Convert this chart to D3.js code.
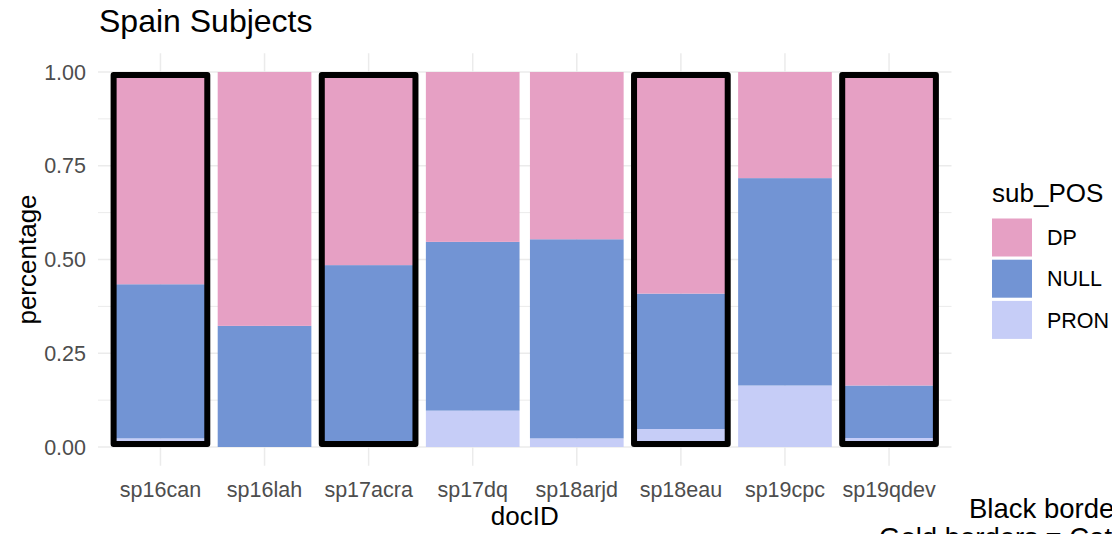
<!DOCTYPE html>
<html>
<head>
<meta charset="utf-8">
<script src="https://cdn.jsdelivr.net/npm/d3@7"></script>
<style>
  body { margin: 0; background: #fff; overflow: hidden; }
  text { font-family: "Liberation Sans", Arial, sans-serif; }
</style>
</head>
<body>
<div id="chart"></div>
<script>
// data
var docIDs = ["sp16can", "sp16lah", "sp17acra", "sp17dq", "sp18arjd", "sp18eau", "sp19cpc", "sp19qdev"];
var dpVals   = [0.566, 0.677, 0.515, 0.453, 0.446, 0.591, 0.283, 0.836];
var nullVals = [0.411, 0.323, 0.485, 0.450, 0.531, 0.361, 0.553, 0.140];
var pronVals = [0.023, 0.000, 0.000, 0.097, 0.023, 0.048, 0.164, 0.024];
var posKeys = ["DP", "NULL", "PRON"];
var posColors = ["#E6A0C4", "#7294D4", "#C6CDF7"];
var boxedDocs = ["sp16can", "sp17acra", "sp18eau", "sp19qdev"];
var yTicks = [0, 0.25, 0.5, 0.75, 1];
var yMinor = [0.125, 0.375, 0.625, 0.875];

var W = 1112, H = 534;
var svg = d3.select("#chart").append("svg")
    .attr("width", W).attr("height", H);

// scales
var x = d3.scaleBand()
    .domain(docIDs)
    .range([98, 951.5])
    .paddingInner(0.1)
    .paddingOuter(0.15);
var y = d3.scaleLinear()
    .domain([-0.05, 1.05])
    .range([465.75, 53.25]);

var color = d3.scaleOrdinal().domain(posKeys).range(posColors);

// grid
var grid = svg.append("g");
grid.selectAll(".minor").data(yMinor).enter().append("line")
    .attr("x1", 98).attr("x2", 951.5)
    .attr("y1", function (d) { return y(d); })
    .attr("y2", function (d) { return y(d); })
    .attr("stroke", "#EBEBEB").attr("stroke-width", 1);
grid.selectAll(".major").data(yTicks).enter().append("line")
    .attr("x1", 98).attr("x2", 951.5)
    .attr("y1", function (d) { return y(d); })
    .attr("y2", function (d) { return y(d); })
    .attr("stroke", "#EBEBEB").attr("stroke-width", 1.5);
grid.selectAll(".vert").data(docIDs).enter().append("line")
    .attr("x1", function (d) { return x(d) + x.bandwidth() / 2; })
    .attr("x2", function (d) { return x(d) + x.bandwidth() / 2; })
    .attr("y1", y(1.05)).attr("y2", y(-0.05))
    .attr("stroke", "#EBEBEB").attr("stroke-width", 1.5);

// stacked bars
var table = docIDs.map(function (d, i) {
    return { docID: d, DP: dpVals[i], NULL: nullVals[i], PRON: pronVals[i] };
});
var stack = d3.stack().keys(["PRON", "NULL", "DP"]);
var series = stack(table);

svg.append("g").selectAll("g")
    .data(series)
    .enter().append("g")
    .attr("fill", function (s) { return color(s.key); })
    .selectAll("rect")
    .data(function (s) { return s; })
    .enter().append("rect")
    .attr("x", function (d) { return x(d.data.docID); })
    .attr("y", function (d) { return y(d[1]); })
    .attr("width", x.bandwidth())
    .attr("height", function (d) { return y(d[0]) - y(d[1]); });

// black borders round some bars
svg.append("g").selectAll("rect")
    .data(boxedDocs)
    .enter().append("rect")
    .attr("x", function (d) { return x(d); })
    .attr("y", y(0.992))
    .attr("width", x.bandwidth())
    .attr("height", y(0.008) - y(0.992))
    .attr("fill", "none")
    .attr("stroke", "#000")
    .attr("stroke-width", 6)
    .attr("stroke-linejoin", "round");

// y axis labels
svg.append("g").selectAll("text")
    .data(yTicks).enter().append("text")
    .attr("x", 86)
    .attr("y", function (d) { return y(d); })
    .attr("dy", "0.36em")
    .attr("text-anchor", "end")
    .attr("fill", "#4D4D4D")
    .style("font-size", "21.5px")
    .text(function (d) { return d3.format(".2f")(d); });

// x axis labels
svg.append("g").selectAll("text")
    .data(docIDs).enter().append("text")
    .attr("x", function (d) { return x(d) + x.bandwidth() / 2; })
    .attr("y", 497)
    .attr("text-anchor", "middle")
    .attr("fill", "#4D4D4D")
    .style("font-size", "21.5px")
    .text(function (d) { return d; });

// axis titles
svg.append("text")
    .attr("x", (98 + 951.5) / 2).attr("y", 525)
    .attr("text-anchor", "middle")
    .attr("fill", "#000")
    .style("font-size", "26px")
    .text("docID");
svg.append("text")
    .attr("transform", "translate(36," + ((y(1.05) + y(-0.05)) / 2) + ") rotate(-90)")
    .attr("text-anchor", "middle")
    .attr("fill", "#000")
    .style("font-size", "26px")
    .text("percentage");

// title
svg.append("text")
    .attr("x", 99).attr("y", 32)
    .attr("fill", "#000")
    .style("font-size", "32px")
    .text("Spain Subjects");

// legend
var legend = svg.append("g");
legend.append("text")
    .attr("x", 992).attr("y", 202)
    .attr("fill", "#000")
    .style("font-size", "26px")
    .text("sub_POS");
var items = legend.selectAll(".item").data(posKeys).enter().append("g")
    .attr("transform", function (d, i) { return "translate(992," + (218.5 + i * 41.2) + ")"; });
items.append("rect")
    .attr("width", 40).attr("height", 38)
    .attr("fill", function (d) { return color(d); });
items.append("text")
    .attr("x", 55).attr("y", 19)
    .attr("dy", "0.36em")
    .attr("fill", "#000")
    .style("font-size", "21.5px")
    .text(function (d) { return d; });

// note in the bottom right (cut off by the picture edge, as in the original)
svg.append("text")
    .attr("x", 969).attr("y", 518)
    .attr("fill", "#000")
    .style("font-size", "27.5px")
    .text("Black borders = Spain");
svg.append("text")
    .attr("x", 879).attr("y", 547)
    .attr("fill", "#000")
    .style("font-size", "27.5px")
    .text("Gold borders = Catalonia");
</script>
</body>
</html>
